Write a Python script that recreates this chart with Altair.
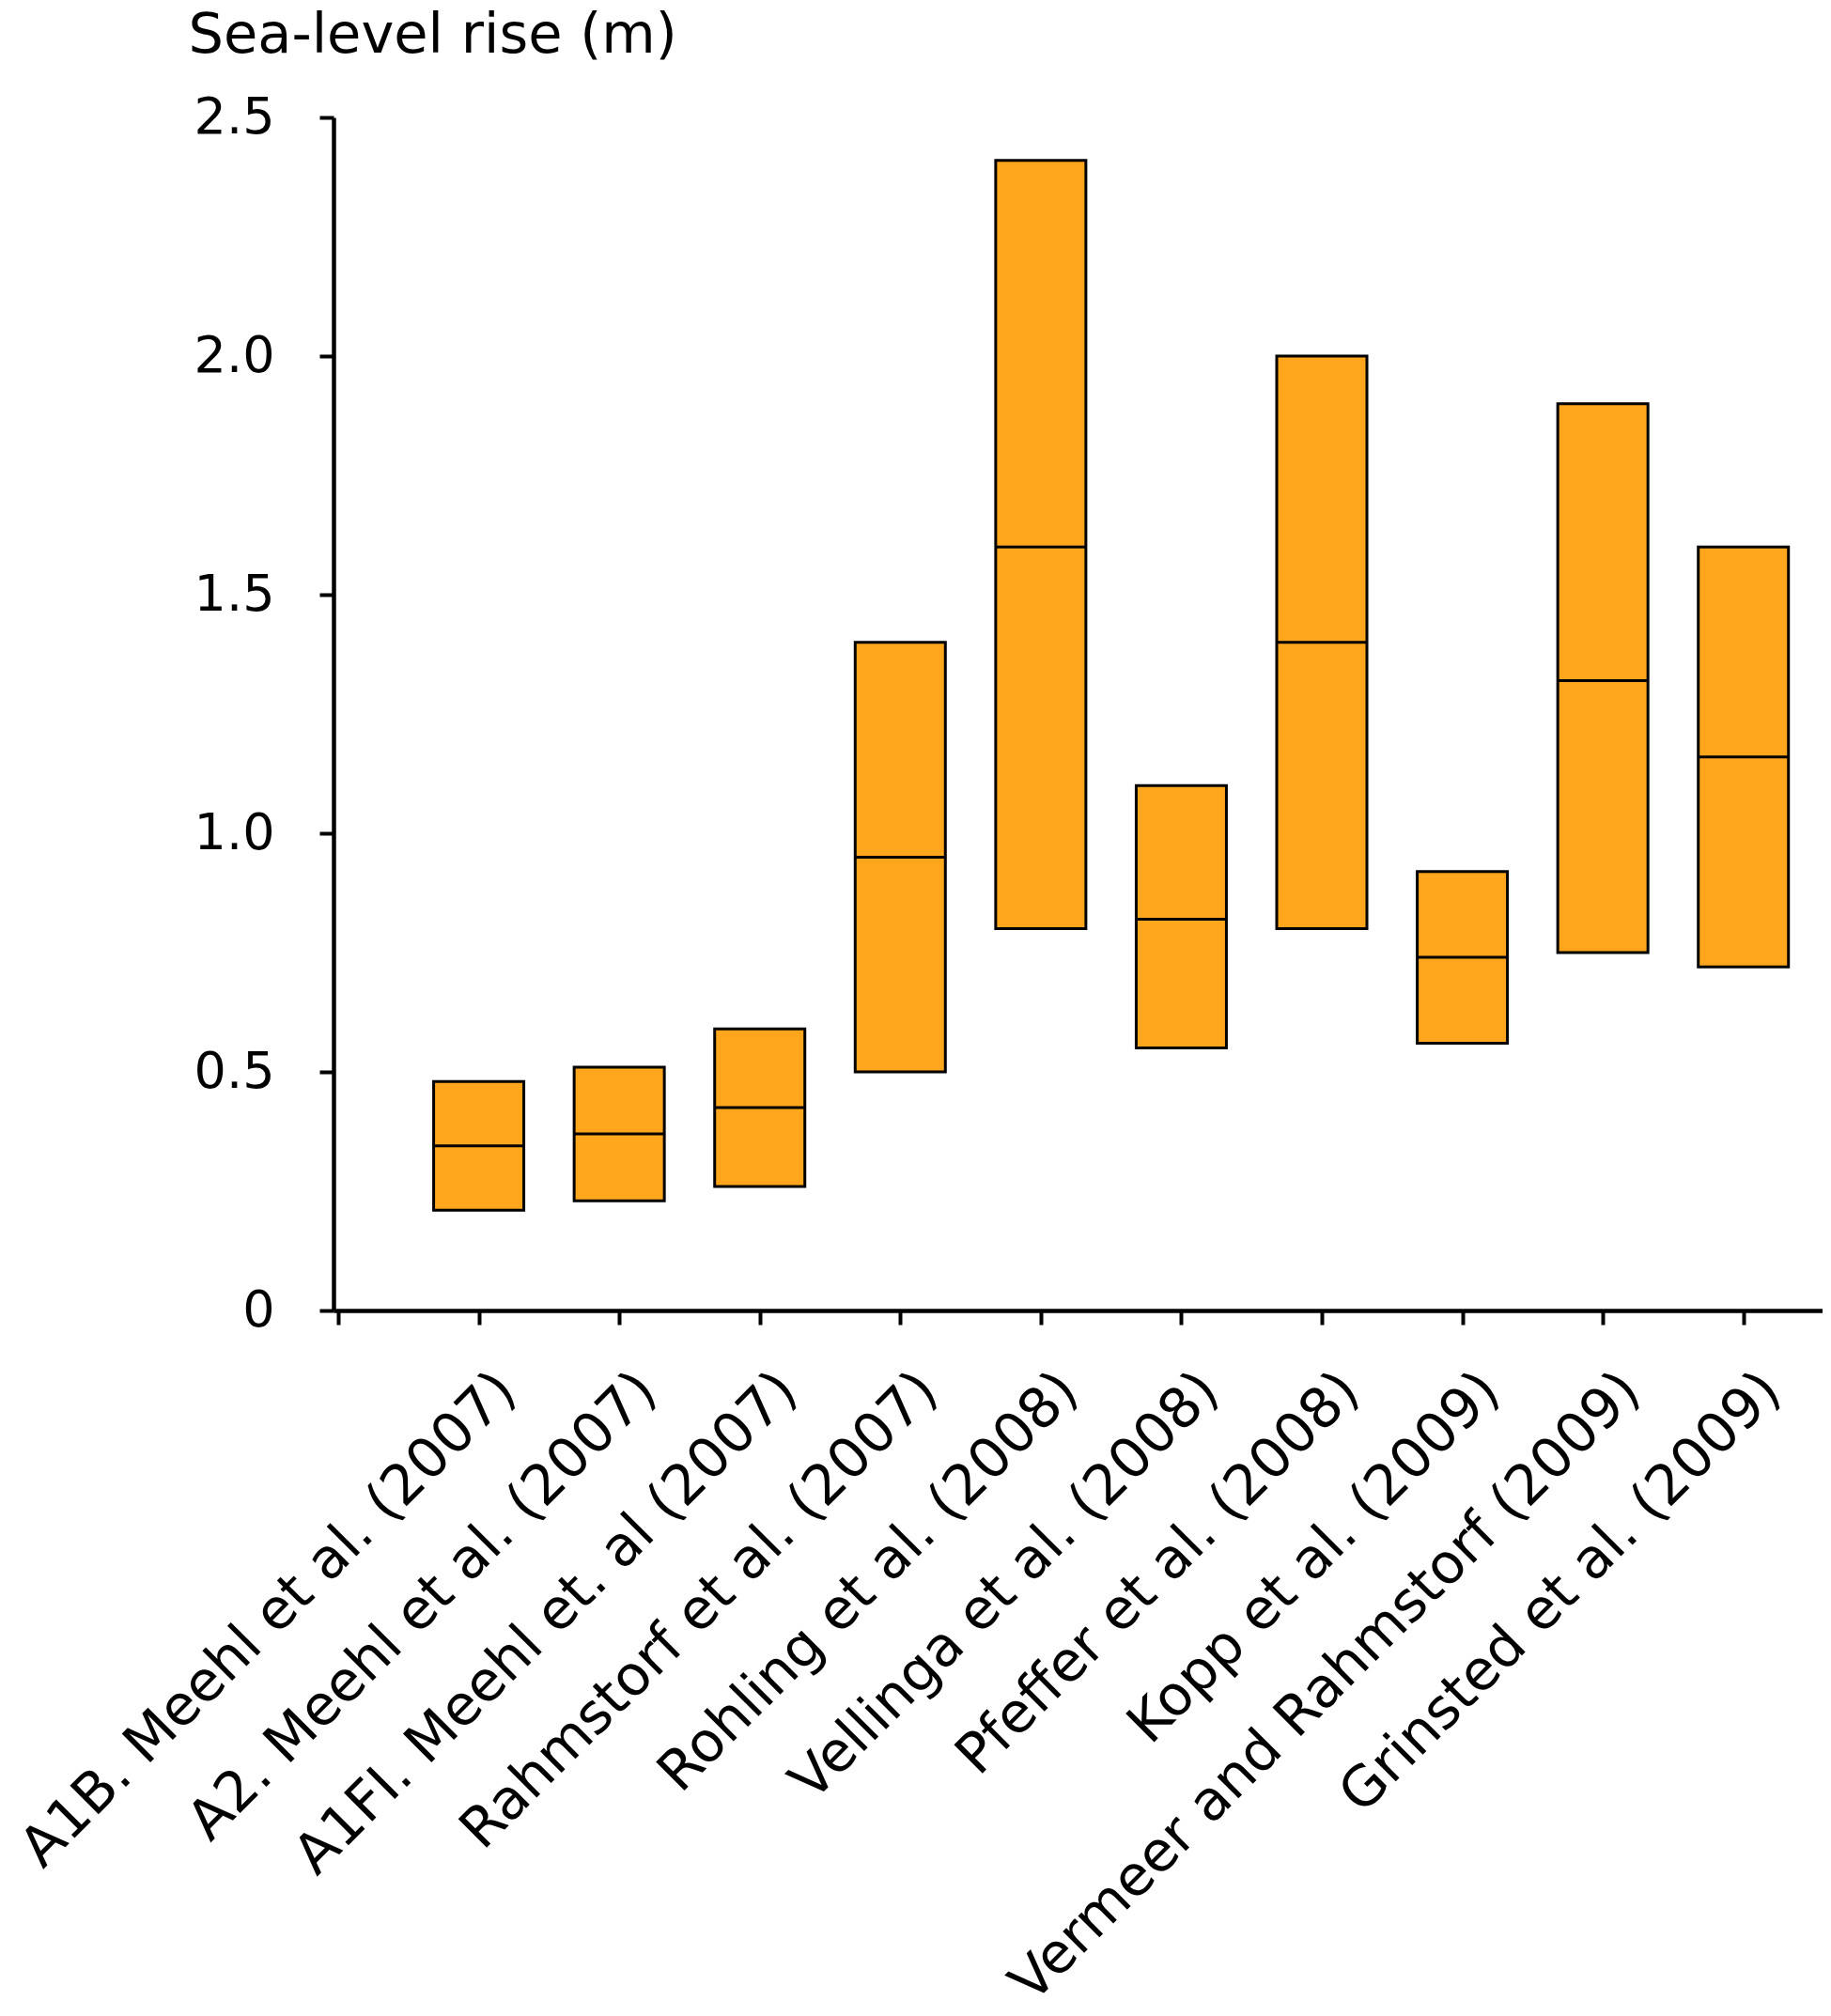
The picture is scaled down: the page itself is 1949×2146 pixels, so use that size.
import json
import altair as alt
import pandas as pd

studies = [
    "A1B. Meehl et al. (2007)",
    "A2. Meehl et al. (2007)",
    "A1FI. Meehl et. al (2007)",
    "Rahmstorf et al. (2007)",
    "Rohling et al. (2008)",
    "Vellinga et al. (2008)",
    "Pfeffer et al. (2008)",
    "Kopp et al. (2009)",
    "Vermeer and Rahmstorf (2009)",
    "Grinsted et al. (2009)",
]
low = [0.21, 0.23, 0.26, 0.50, 0.80, 0.55, 0.80, 0.56, 0.75, 0.72]
mid = [0.345, 0.37, 0.425, 0.95, 1.60, 0.82, 1.40, 0.74, 1.32, 1.16]
high = [0.48, 0.51, 0.59, 1.40, 2.41, 1.10, 2.00, 0.92, 1.90, 1.60]
y_ticks = [0, 0.5, 1.0, 1.5, 2.0, 2.5]

df = pd.DataFrame({
    "pos": list(range(1, len(studies) + 1)),
    "study": studies,
    "low": low,
    "mid": mid,
    "high": high,
})

FONT = "DejaVu Sans"
ORANGE = "#FFA61C"
names_js = json.dumps(studies)

x_enc = alt.X(
    "pos:Q",
    scale=alt.Scale(domain=[0, 10.53], nice=False, zero=False),
    axis=alt.Axis(
        values=list(range(0, 11)),
        labelExpr=f"datum.value >= 1 ? {names_js}[datum.value - 1] : ''",
        labelAngle=-45,
        labelAlign="right",
        labelBaseline="top",
        labelPadding=40,
        labelOffset=9,
        labelFontSize=59,
        labelFont=FONT,
        labelColor="black",
        labelOverlap=False,
        labelLimit=2000,
        tickSize=15,
        tickWidth=4,
        tickColor="black",
        domainColor="black",
        domainWidth=4.5,
        grid=False,
        title=None,
    ),
)

y_enc = alt.Y(
    "low:Q",
    scale=alt.Scale(domain=[0, 2.5], nice=False),
    axis=alt.Axis(
        values=y_ticks,
        labelExpr="datum.value == 0 ? '0' : format(datum.value, '.1f')",
        labelFontSize=54,
        labelFont=FONT,
        labelColor="black",
        labelPadding=48,
        tickSize=15,
        tickWidth=4,
        tickColor="black",
        domainColor="black",
        domainWidth=4.5,
        grid=False,
        title="Sea-level rise (m)",
        titleAngle=0,
        titleAlign="left",
        titleBaseline="alphabetic",
        titleX=-155,
        titleY=-70,
        titleFontSize=59,
        titleFont=FONT,
        titleFontWeight="normal",
        titleColor="black",
    ),
)

base = alt.Chart(df).encode(x=x_enc)

bars = base.mark_bar(
    size=96, color=ORANGE, stroke="black", strokeWidth=3, opacity=1
).encode(y=y_enc, y2="high:Q")

medians = base.mark_tick(
    orient="horizontal", size=96, thickness=3, color="black", opacity=1
).encode(y=alt.Y("mid:Q"))

chart = (
    alt.layer(bars, medians)
    .properties(width=1585, height=1270, background="white")
    .configure(padding={"left": 4, "top": 0, "right": 0, "bottom": 0})
    .configure_view(stroke=None, strokeWidth=0)
    .configure_axis(grid=False)
)

chart.save("out.html", embed_options={"renderer": "svg", "actions": False})
